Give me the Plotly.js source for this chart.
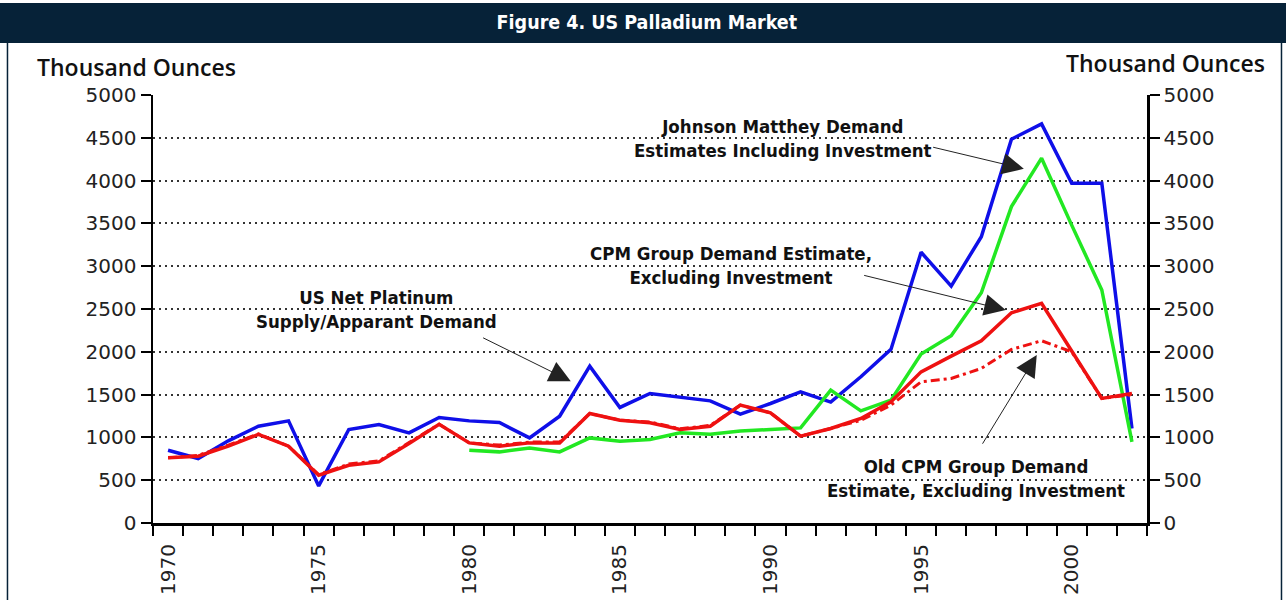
<!DOCTYPE html>
<html>
<head>
<meta charset="utf-8">
<script src="https://cdn.plot.ly/plotly-3.0.1.min.js"></script>
<style>
  body { margin: 0; background: #fff; }
  #plot { width: 1286px; height: 600px; }
</style>
</head>
<body>
<div id="plot"></div>
<script>
// years on the x axis, one point per year
var years = [1970, 1971, 1972, 1973, 1974, 1975, 1976, 1977, 1978, 1979,
             1980, 1981, 1982, 1983, 1984, 1985, 1986, 1987, 1988, 1989,
             1990, 1991, 1992, 1993, 1994, 1995, 1996, 1997, 1998, 1999,
             2000, 2001, 2002];

// tick labels under the axis
var labelYears = [1970, 1975, 1980, 1985, 1990, 1995, 2000];

// US net platinum supply / apparent demand (blue)
var usNetSupply = [850, 753, 960, 1131, 1193, 433, 1092, 1151, 1053, 1233,
                   1193, 1174, 994, 1248, 1833, 1350, 1513, 1466, 1427, 1271,
                   1396, 1532, 1412, 1708, 2028, 3163, 2768, 3345, 4484, 4663,
                   3970, 3970, 1104];

// Johnson Matthey demand incl. investment (green), starts 1980
var jmDemand = [null, null, null, null, null, null, null, null, null, null,
                850, 831, 877, 831, 994, 955, 975, 1053, 1037, 1076,
                1092, 1111, 1552, 1310, 1435, 1973, 2187, 2690, 3696, 4262,
                3480, 2722, 948];

// CPM Group demand excl. investment (red)
var cpmDemand = [761, 780, 897, 1034, 897, 558, 675, 714, 928, 1154,
                 936, 897, 936, 936, 1279, 1201, 1170, 1092, 1131, 1377,
                 1287, 1014, 1104, 1221, 1415, 1766, 1950, 2129, 2456, 2566,
                 2010, 1455, 1513];

// old CPM Group estimate (red dashed)
var oldCpmDemand = [761, 790, 910, 1040, 897, 565, 690, 725, 940, 1154,
                    936, 910, 945, 945, 1279, 1201, 1180, 1100, 1140, 1377,
                    1287, 1014, 1104, 1200, 1377, 1649, 1689, 1806, 2028, 2129,
                    2000, 1455, 1500];

// ticks sit on the year boundaries
var boundaries = years.map(function (y) { return y - 0.5; });
boundaries.push(years[years.length - 1] + 0.5);

var labelFont = "DejaVu Sans Condensed, Liberation Sans Narrow, Arial Narrow, sans-serif";
var tickFont = {family: "DejaVu Sans, sans-serif", size: 20, color: "#222"};

var trace1 = {
  x: years, y: usNetSupply, mode: "lines", name: "US Net Platinum Supply",
  line: {color: "#0f0fe8", width: 3.5}
};
var trace2 = {
  x: years, y: jmDemand, mode: "lines", name: "Johnson Matthey",
  line: {color: "#22e822", width: 3.5}
};
var trace3 = {
  x: years, y: cpmDemand, mode: "lines", name: "CPM Group",
  line: {color: "#ee1111", width: 3.5}
};
var trace4 = {
  x: years, y: oldCpmDemand, mode: "lines", name: "Old CPM Group",
  xaxis: "x2", yaxis: "y2",
  line: {color: "#ee1111", width: 3, dash: "9px,4px,3px,4px"}
};

var data = [trace1, trace2, trace3, trace4];

var range = [years[0] - 0.5, years[years.length - 1] + 0.5];

function note(text, x, y) {
  return {
    text: text, x: x, y: y, xref: "x", yref: "y", showarrow: false,
    xanchor: "center", yanchor: "middle", align: "center",
    font: {family: labelFont, size: 18.5, color: "#111", weight: "bold"}
  };
}
function arrow(x, y, ax, ay) {
  return {
    text: "", x: x, y: y, ax: ax, ay: ay, xref: "x", yref: "y",
    axref: "x", ayref: "y", showarrow: true, arrowhead: 2,
    arrowsize: 4.3, arrowwidth: 1, arrowcolor: "#222"
  };
}

var layout = {
  width: 1286,
  height: 600,
  showlegend: false,
  paper_bgcolor: "#fff",
  plot_bgcolor: "#fff",
  margin: {l: 153, r: 139, t: 95, b: 77},
  title: {
    text: "Figure 4. US Palladium Market",
    font: {family: labelFont, size: 19.5, color: "#fff", weight: "bold"},
    xref: "container", x: 0.503, y: 0.963, yanchor: "middle"
  },
  xaxis: {
    range: range,
    tickmode: "array", tickvals: boundaries,
    showticklabels: false,
    ticks: "outside", ticklen: 10, tickwidth: 2, tickcolor: "#000",
    showline: true, linecolor: "#000", linewidth: 2.5,
    showgrid: false, zeroline: false
  },
  xaxis2: {
    overlaying: "x", anchor: "y", side: "bottom",
    range: range,
    tickmode: "array", tickvals: labelYears,
    ticktext: labelYears.map(String),
    tickangle: -90, tickfont: tickFont,
    ticks: "outside", ticklen: 12, tickcolor: "rgba(0,0,0,0)",
    showline: false, showgrid: false, zeroline: false
  },
  yaxis: {
    range: [0, 5000], dtick: 500, tick0: 0,
    tickfont: tickFont,
    ticks: "outside", ticklen: 10, tickwidth: 2, tickcolor: "#000",
    showline: true, linecolor: "#000", linewidth: 2.5,
    showgrid: true, gridcolor: "#333", gridwidth: 2, griddash: "2px,4px",
    zeroline: false
  },
  yaxis2: {
    overlaying: "y", side: "right", anchor: "x",
    range: [0, 5000], dtick: 500, tick0: 0,
    tickfont: tickFont,
    ticks: "outside", ticklen: 10, tickwidth: 2, tickcolor: "#000",
    showline: true, linecolor: "#000", linewidth: 2.5,
    showgrid: false, zeroline: false
  },
  shapes: [
    // title band
    {type: "rect", xref: "paper", yref: "paper", x0: -0.2, x1: 1.2, y0: 1.1215, y1: 1.215,
     fillcolor: "#062238", line: {width: 0}, layer: "below"},
    // frame sides
    {type: "line", xref: "paper", yref: "paper", x0: -0.1464, x1: -0.1464, y0: 1.1215, y1: -0.2,
     line: {color: "#062238", width: 1.5}},
    {type: "line", xref: "paper", yref: "paper", x0: 1.1353, x1: 1.1353, y0: 1.1215, y1: -0.2,
     line: {color: "#062238", width: 1.5}}
  ],
  annotations: [
    {text: "Thousand Ounces", xref: "paper", yref: "paper", x: -0.0161, y: 1.0665,
     xanchor: "center", yanchor: "middle", showarrow: false,
     font: {family: "Open Sans, sans-serif", size: 23, color: "#111", weight: 600}},
    {text: "Thousand Ounces", xref: "paper", yref: "paper", x: 1.0191, y: 1.0755,
     xanchor: "center", yanchor: "middle", showarrow: false,
     font: {family: "Open Sans, sans-serif", size: 23, color: "#111", weight: 600}},
    note("Johnson Matthey Demand<br>Estimates Including Investment", 1990.41, 4494),
    note("CPM Group Demand Estimate,<br>Excluding Investment", 1988.68, 3008),
    note("US Net Platinum<br>Supply/Apparant Demand", 1976.93, 2494),
    note("Old CPM Group Demand<br>Estimate, Excluding Investment", 1996.81, 523),
    arrow(1998.41, 4137, 1995.35, 4394),
    arrow(1997.81, 2487, 1993.06, 2897),
    arrow(1983.37, 1657, 1980.41, 2172),
    arrow(1998.84, 1962, 1997.01, 909)
  ]
};

Plotly.newPlot("plot", data, layout, {displayModeBar: false, staticPlot: true});
</script>
</body>
</html>
